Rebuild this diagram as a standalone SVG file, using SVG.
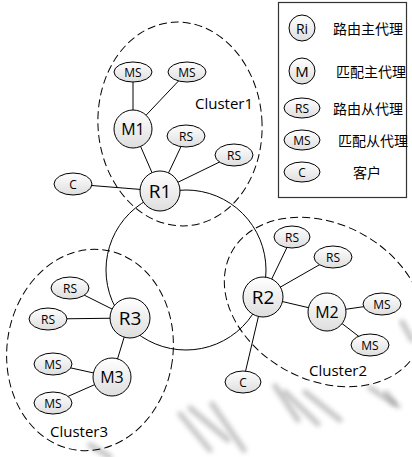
<svg xmlns="http://www.w3.org/2000/svg" width="412" height="457" viewBox="0 0 412 457">
<defs>
<linearGradient id="g" x1="0" y1="0" x2="0" y2="1">
<stop offset="0" stop-color="#ffffff"/>
<stop offset="1" stop-color="#dedede"/>
</linearGradient>
<filter id="blur" x="-50%" y="-50%" width="200%" height="200%"><feGaussianBlur stdDeviation="2.5"/></filter>
<style>
.n{fill:url(#g);stroke:#000;stroke-width:1}
.l{stroke:#000;stroke-width:1;fill:none}
.d{stroke:#000;stroke-width:1;fill:none;stroke-dasharray:8 4}
text{font-family:"Open Sans","Noto Sans","Liberation Sans",sans-serif;fill:#000;text-anchor:middle;dominant-baseline:central}
.s{font-size:12px}
.m{font-size:16px}
.r{font-size:19px}
.c{font-size:15px;text-anchor:start}
.cn{font-family:"Noto Sans CJK SC","Noto Sans CJK JP",sans-serif;font-size:14px;text-anchor:start}
.w{stroke:#8a8a8a;stroke-width:5;stroke-linecap:round;opacity:0.55;filter:url(#blur)}
</style>
</defs>
<rect width="412" height="457" fill="#fff"/>
<g id="watermark">
<line class="w" x1="180" y1="414" x2="210" y2="450"/>
<line class="w" x1="212" y1="404" x2="244" y2="450"/>
<line class="w" x1="190" y1="408" x2="228" y2="440"/>
<line class="w" x1="275" y1="386" x2="298" y2="420"/>
<line class="w" x1="305" y1="392" x2="340" y2="420"/>
<line class="w" x1="285" y1="392" x2="318" y2="424"/>
<line class="w" x1="370" y1="388" x2="398" y2="406"/>
<line class="w" x1="386" y1="393" x2="394" y2="403"/>
<line class="w" x1="402" y1="322" x2="412" y2="340"/>
<line class="w" x1="90" y1="445" x2="110" y2="457"/>
</g>
<g id="clusters">
<ellipse class="d" cx="180" cy="124" rx="82" ry="102" transform="rotate(-4 180 124)"/>
<ellipse class="d" cx="324" cy="302" rx="105" ry="78" transform="rotate(28 324 302)"/>
<ellipse class="d" cx="90" cy="350" rx="83" ry="101" transform="rotate(8 90 350)"/>
<text class="c" x="195" y="103">Cluster1</text>
<text class="c" x="309" y="370">Cluster2</text>
<text class="c" x="50" y="431">Cluster3</text>
</g>
<g id="connectors">
<circle class="l" cx="186" cy="270" r="80"/>
<line class="l" x1="133" y1="72" x2="133" y2="129"/>
<line class="l" x1="187" y1="72" x2="133" y2="129"/>
<line class="l" x1="133" y1="129" x2="160" y2="191"/>
<line class="l" x1="186" y1="136" x2="160" y2="191"/>
<line class="l" x1="234" y1="155" x2="160" y2="191"/>
<line class="l" x1="73" y1="184" x2="160" y2="191"/>
<line class="l" x1="263" y1="297" x2="292" y2="237"/>
<line class="l" x1="263" y1="297" x2="333" y2="257"/>
<line class="l" x1="263" y1="297" x2="327" y2="312"/>
<line class="l" x1="263" y1="297" x2="243" y2="382"/>
<line class="l" x1="327" y1="312" x2="382" y2="304"/>
<line class="l" x1="327" y1="312" x2="370" y2="345"/>
<line class="l" x1="130" y1="318" x2="70" y2="288"/>
<line class="l" x1="130" y1="318" x2="48" y2="319"/>
<line class="l" x1="130" y1="318" x2="112" y2="377"/>
<line class="l" x1="112" y1="377" x2="53" y2="364"/>
<line class="l" x1="112" y1="377" x2="53" y2="403"/>
</g>
<g id="R1"><circle class="n" cx="160" cy="191" r="20"/><text class="r" x="160" y="191">R1</text></g>
<g id="M1"><circle class="n" cx="133" cy="129" r="19"/><text class="m" x="133" y="129">M1</text></g>
<g id="MS1a"><ellipse class="n" cx="133" cy="72" rx="19" ry="10"/><text class="s" x="133" y="72">MS</text></g>
<g id="MS1b"><ellipse class="n" cx="187" cy="72" rx="19" ry="10"/><text class="s" x="187" y="72">MS</text></g>
<g id="RS1a"><ellipse class="n" cx="186" cy="136" rx="19" ry="11"/><text class="s" x="186" y="136">RS</text></g>
<g id="RS1b"><ellipse class="n" cx="234" cy="155" rx="19" ry="11"/><text class="s" x="234" y="155">RS</text></g>
<g id="C1"><ellipse class="n" cx="73" cy="184" rx="19" ry="11"/><text class="s" x="73" y="184">C</text></g>
<g id="R2"><circle class="n" cx="263" cy="297" r="20"/><text class="r" x="263" y="297">R2</text></g>
<g id="M2"><circle class="n" cx="327" cy="312" r="19"/><text class="m" x="327" y="312">M2</text></g>
<g id="RS2a"><ellipse class="n" cx="292" cy="237" rx="18" ry="11"/><text class="s" x="292" y="237">RS</text></g>
<g id="RS2b"><ellipse class="n" cx="333" cy="257" rx="19" ry="11"/><text class="s" x="333" y="257">RS</text></g>
<g id="MS2a"><ellipse class="n" cx="382" cy="304" rx="19" ry="11"/><text class="s" x="382" y="304">MS</text></g>
<g id="MS2b"><ellipse class="n" cx="370" cy="345" rx="19" ry="11"/><text class="s" x="370" y="345">MS</text></g>
<g id="C2"><ellipse class="n" cx="243" cy="382" rx="18" ry="11"/><text class="s" x="243" y="382">C</text></g>
<g id="R3"><circle class="n" cx="130" cy="318" r="20"/><text class="r" x="130" y="318">R3</text></g>
<g id="M3"><circle class="n" cx="112" cy="377" r="19"/><text class="m" x="112" y="377">M3</text></g>
<g id="RS3a"><ellipse class="n" cx="70" cy="288" rx="19" ry="11"/><text class="s" x="70" y="288">RS</text></g>
<g id="RS3b"><ellipse class="n" cx="48" cy="319" rx="19" ry="11"/><text class="s" x="48" y="319">RS</text></g>
<g id="MS3a"><ellipse class="n" cx="53" cy="364" rx="19" ry="11"/><text class="s" x="53" y="364">MS</text></g>
<g id="MS3b"><ellipse class="n" cx="53" cy="403" rx="19" ry="11"/><text class="s" x="53" y="403">MS</text></g>
<g id="legend">
<rect x="278.5" y="2.5" width="128" height="195" fill="#fff" stroke="#333" stroke-width="1.2"/>
<circle class="n" cx="302" cy="28" r="13"/><text x="302" y="28" style="font-size:14px">Ri</text>
<text class="cn" x="333" y="28">路由主代理</text>
<circle class="n" cx="302" cy="71" r="13"/><text x="302" y="71" style="font-size:15px">M</text>
<text class="cn" x="336" y="71">匹配主代理</text>
<ellipse class="n" cx="302" cy="108" rx="18" ry="10"/><text class="s" x="302" y="108">RS</text>
<text class="cn" x="333" y="108">路由从代理</text>
<ellipse class="n" cx="302" cy="140" rx="18" ry="10"/><text class="s" x="302" y="140">MS</text>
<text class="cn" x="338" y="140">匹配从代理</text>
<ellipse class="n" cx="302" cy="172" rx="18" ry="10"/><text class="s" x="302" y="172">C</text>
<text class="cn" x="353" y="172">客户</text>
</g>
</svg>
